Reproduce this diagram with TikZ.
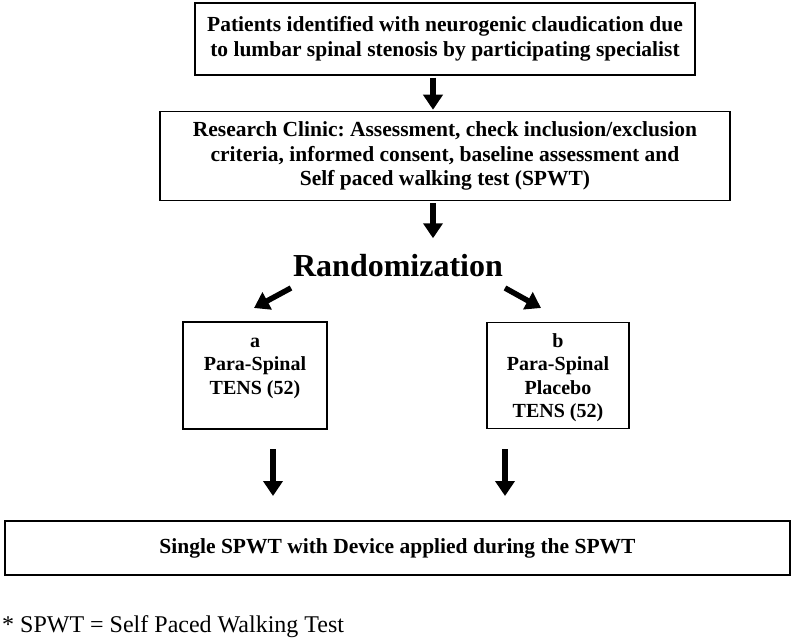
\documentclass[tikz,border=0pt]{standalone}
\usepackage{fontspec}
\setmainfont{Liberation Serif}
\usetikzlibrary{arrows.meta}
\frenchspacing
\begin{document}
\begin{tikzpicture}[x=1pt,y=-1pt,
  box/.style={draw, line width=1.5pt, inner sep=0pt, align=center,
    font=\fontsize{21.5}{24.5}\selectfont\bfseries},
  smalltext/.style={inner sep=0pt, align=center, anchor=north,
    font=\fontsize{20}{23.5}\selectfont\bfseries},
  bigarrow/.style={line width=5.5pt, -{Triangle[width=19pt,length=15pt]}}]
\useasboundingbox (0,0) rectangle (792,639);
% boxes
\node[box, minimum width=500pt, minimum height=72pt] (box1) at (445,39)
  {Patients identified with neurogenic claudication due\\to lumbar spinal stenosis by participating specialist};
\node[box, minimum width=570pt, minimum height=89pt] (box2) at (445,156)
  {Research Clinic: Assessment, check inclusion/exclusion\\criteria, informed consent, baseline assessment and\\Self paced walking test (SPWT)};
\node[inner sep=0pt, font=\fontsize{32}{36}\selectfont\bfseries] (rand) at (398,266) {Randomization};
\node[box, minimum width=144pt, minimum height=107pt] (boxa) at (255,375.5) {};
\node[box, minimum width=142pt, minimum height=106pt] (boxb) at (558,375.5) {};
\node[smalltext] (ta) at (255,333) {\vphantom{b}a\\Para-Spinal\\TENS (52)};
\node[smalltext] (tb) at (558,333) {b\\Para-Spinal\\Placebo\\TENS (52)};
\node[box, minimum width=785pt, minimum height=54pt] (box3) at (397.5,548)
  {Single SPWT with Device applied during the SPWT};
\node[anchor=base west, inner sep=0pt, font=\fontsize{24}{27}\selectfont] (foot) at (2,632)
  {* SPWT = Self Paced Walking Test};
% arrow anchor coordinates
\coordinate (ax) at (433,0);
\coordinate (ls) at (291,288);
\coordinate (le) at (254,308);
\coordinate (rs) at (505,288);
\coordinate (re) at (541,308);
\coordinate (das) at (273,449);
\coordinate (dae) at (273,496);
\coordinate (dbs) at (505,449);
\coordinate (dbe) at (505,496);
% connectors
\draw[bigarrow, shorten <=2pt, shorten >=1pt] (box1.south -| ax) -- (box2.north -| ax);
\draw[bigarrow, shorten <=2pt] (box2.south -| ax) -- ++(0,37);
\draw[bigarrow] (ls) -- (le);
\draw[bigarrow] (rs) -- (re);
\draw[bigarrow] (das) -- (dae);
\draw[bigarrow] (dbs) -- (dbe);
\end{tikzpicture}
\end{document}
